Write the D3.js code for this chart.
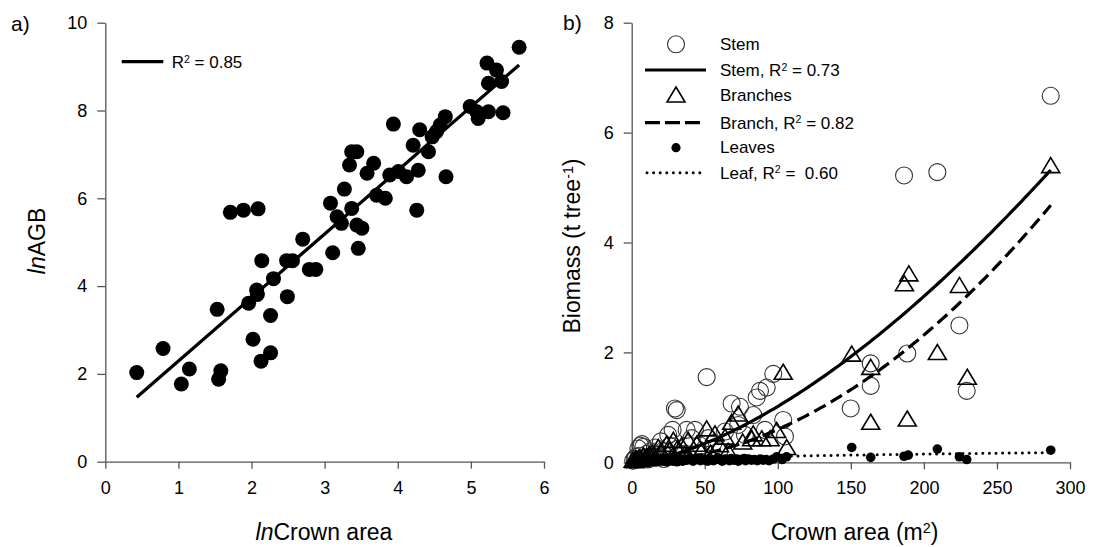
<!DOCTYPE html>
<html>
<head>
<meta charset="utf-8">
<script src="https://cdn.jsdelivr.net/npm/d3@7"></script>
<style>
  body { margin: 0; background: #fff; }
  text { font-family: Arial, "Liberation Sans", sans-serif; fill: #000; white-space: pre; }
</style>
</head>
<body>
<script>
// ---------- Panel a: lnAGB vs lnCrown area ----------
const lnCrown = [0.43,0.79,1.04,1.15,1.53,1.58,1.55,1.71,1.89,2.09,1.96,2.02,2.13,2.26,2.08,2.07,2.14,2.26,2.30,2.49,
  2.48,2.56,2.70,2.79,2.88,3.11,3.46,3.08,3.27,3.17,3.23,3.37,3.44,3.51,3.34,3.37,3.44,3.58,3.67,3.71,
  3.83,3.89,4.01,4.12,3.94,4.26,4.21,4.28,4.30,4.42,4.47,4.53,4.58,4.65,4.66,4.99,5.08,5.10,5.24,5.44,
  5.22,5.35,5.42,5.24,5.66];
const lnAGB = [2.03,2.58,1.77,2.11,3.47,2.07,1.88,5.68,5.73,5.76,3.61,2.79,2.29,2.48,3.81,3.91,4.58,3.33,4.17,3.76,
  4.58,4.58,5.07,4.38,4.38,4.76,4.86,5.89,6.21,5.58,5.43,5.77,5.39,5.32,6.76,7.06,7.06,6.57,6.80,6.07,
  6.00,6.53,6.61,6.49,7.69,5.73,7.21,6.64,7.56,7.06,7.40,7.52,7.67,7.86,6.49,8.09,7.97,7.82,7.97,7.95,
  9.08,8.92,8.66,8.62,9.44];
// linear fit lnAGB = intercept + slope * lnCrown
const fitIntercept = 0.843, fitSlope = 1.448, fitRange = [0.43, 5.66];
const ticksAx = [0,1,2,3,4,5,6];
const ticksAy = [0,2,4,6,8,10];

// ---------- Panel b: component biomass vs crown area ----------
const stemArea = [1,2,3,4,5,6,7,8,9,10,12,13,15,16,18,20,21,23,25,26,28,29.6,30.8,32,35,37.6,41,43.3,47,51.3,
  52.4,56,60,63.9,68.4,72.9,74.1,77.5,83.2,85.5,87.8,91.2,92.4,96.9,103.7,104.9,149.9,163.6,163.6,186.4,
  188.6,209.2,224.3,229.3,286.8,4.6,11,17,22];
const stemMass = [0.03,0.06,0.1,0.05,0.12,0.3,0.33,0.28,0.08,0.15,0.1,0.2,0.08,0.27,0.14,0.38,0.2,0.12,0.5,0.3,
  0.59,0.98,0.95,0.25,0.15,0.59,0.44,0.59,0.3,1.55,0.44,0.35,0.2,0.56,1.07,0.68,1.01,0.5,0.86,1.18,
  1.3,0.59,1.36,1.61,0.77,0.47,0.98,1.8,1.39,5.22,1.98,5.28,2.49,1.3,6.67,0.25,0.05,0.1,0.06];
const branchArea = [1,3,5,8,10,12,14,18.2,20,23.9,26,28.5,31,34.2,38.7,44.5,48,51.3,57,60,63.9,68.4,72.9,76,
  82.1,83.2,89,94.7,99.2,103.7,106.1,150.6,163.6,163.6,186.7,188.6,189.7,209.2,224.3,229.7,286.8,2,6,16,36,54,66];
const branchMass = [0.02,0.04,0.06,0.1,0.08,0.12,0.15,0.25,0.18,0.31,0.2,0.38,0.22,0.28,0.38,0.31,0.2,0.59,0.5,0.3,
  0.44,0.71,0.86,0.35,0.41,0.5,0.41,0.41,0.56,1.62,0.25,1.95,1.71,0.71,3.23,0.77,3.41,1.98,3.2,1.53,5.38,0.01,0.03,0.07,0.12,0.15,0.18];
const leafArea = [0,1,2,3,4,5,6,7,8,9,10,11,12,13,14,15,16,17,18,19,20,21,22,23,24,25,26,27,28,29,30,31,32,33,34,35,36,
  38,40,42,44,45,47,49,50,52,53,55,56,58,59,61,62,64,65,67,68,70,72,73,75,77,78,80,82,84,86,88,90,92,94,97,99.2,103,106,
  150.6,163.6,186.4,189.3,209.2,224.3,229.3,286.8];
const leafMass = [0.01,0.01,0.03,0.0,0.04,0.02,0.05,0.01,0.03,0.06,0.02,0.04,0.0,0.05,0.02,0.07,0.03,0.01,0.05,0.03,0.06,
  0.02,0.07,0.04,0.01,0.05,0.03,0.08,0.02,0.06,0.04,0.01,0.05,0.07,0.03,0.02,0.06,0.04,0.08,0.02,0.05,0.07,0.03,0.06,0.04,
  0.02,0.07,0.05,0.03,0.06,0.08,0.04,0.02,0.06,0.05,0.03,0.07,0.04,0.06,0.02,0.05,0.07,0.03,0.06,0.04,0.05,0.03,0.06,0.04,
  0.05,0.03,0.06,0.1,0.05,0.1,0.27,0.09,0.11,0.13,0.24,0.1,0.05,0.22];
// power fits: biomass = a * area^b
const stemFitA = 7.37e-4, stemFitB = 1.57;
const branchFitA = 7.545e-5, branchFitB = 1.95;
const leafFitA = 0.0131, leafFitB = 0.46;
const fitAreaMax = 286.8;
const ticksBx = [0,50,100,150,200,250,300];
const ticksBy = [0,2,4,6,8];

const svg = d3.select("body").append("svg")
  .attr("width", 1095).attr("height", 547);

const AXIS_COLOR = "#555";

function styleAxis(g) {
  g.selectAll("path.domain").attr("stroke", AXIS_COLOR).attr("stroke-width", 1.3);
  g.selectAll(".tick line").attr("stroke", AXIS_COLOR).attr("stroke-width", 1.3);
  g.selectAll(".tick text").attr("font-size", 18).attr("fill", "#000")
    .attr("font-family", "Arial, 'Liberation Sans', sans-serif");
}

// superscript helper
function addSup(t, base, sup, after) {
  t.append("tspan").text(base);
  t.append("tspan").attr("font-size", "0.62em").attr("dy", "-0.5em").text(sup);
  if (after !== undefined) t.append("tspan").attr("dy", "0.31em").text(after);
}

// ===== Panel a =====
const xA = d3.scaleLinear().domain([0, 6]).range([105.3, 544]);
const yA = d3.scaleLinear().domain([0, 10]).range([461.7, 22.7]);

const gA = svg.append("g");
gA.append("g").attr("transform", `translate(0,${yA(0)})`)
  .call(d3.axisBottom(xA).tickValues(ticksAx).tickSize(7).tickSizeOuter(0).tickPadding(13).tickFormat(d3.format("d")))
  .call(styleAxis);
gA.append("g").attr("transform", `translate(${xA(0)},0)`)
  .call(d3.axisLeft(yA).tickValues(ticksAy).tickSize(8).tickSizeOuter(0).tickPadding(10).tickFormat(d3.format("d")))
  .call(styleAxis);

gA.selectAll("circle.pt").data(d3.range(lnCrown.length)).join("circle")
  .attr("class", "pt")
  .attr("cx", i => xA(lnCrown[i])).attr("cy", i => yA(lnAGB[i]))
  .attr("r", 7.5).attr("fill", "#000");

gA.append("line")
  .attr("x1", xA(fitRange[0])).attr("y1", yA(fitIntercept + fitSlope * fitRange[0]))
  .attr("x2", xA(fitRange[1])).attr("y2", yA(fitIntercept + fitSlope * fitRange[1]))
  .attr("stroke", "#000").attr("stroke-width", 3.3);

// legend a
gA.append("line").attr("x1", 121.7).attr("x2", 163.3).attr("y1", 61.7).attr("y2", 61.7)
  .attr("stroke", "#000").attr("stroke-width", 3.3);
addSup(gA.append("text").attr("x", 171.7).attr("y", 68.3).attr("font-size", 17), "R", "2", " = 0.85");

// axis titles a
const tAx = gA.append("text").attr("x", 324).attr("y", 540).attr("text-anchor", "middle").attr("font-size", 23);
tAx.append("tspan").attr("font-style", "italic").text("ln");
tAx.append("tspan").text("Crown area");
const tAy = gA.append("text").attr("transform", "translate(45,241) rotate(-90)")
  .attr("text-anchor", "middle").attr("font-size", 23);
tAy.append("tspan").attr("font-style", "italic").text("ln");
tAy.append("tspan").text("AGB");
gA.append("text").attr("x", 11).attr("y", 30.5).attr("font-size", 21).text("a)");

// ===== Panel b =====
const xB = d3.scaleLinear().domain([0, 300]).range([631.7, 1070]);
const yB = d3.scaleLinear().domain([0, 8]).range([462.3, 22.7]);

const gB = svg.append("g");
gB.append("g").attr("transform", `translate(0,${yB(0)})`)
  .call(d3.axisBottom(xB).tickValues(ticksBx).tickSize(7).tickSizeOuter(0).tickPadding(12).tickFormat(d3.format("d")))
  .call(styleAxis);
gB.append("g").attr("transform", `translate(${xB(0)},0)`)
  .call(d3.axisLeft(yB).tickValues(ticksBy).tickSize(8).tickSizeOuter(0).tickPadding(10).tickFormat(d3.format("d")))
  .call(styleAxis);

// open triangle marker, centred on the point
function triPath(cx, cy) {
  const p = d3.path();
  p.moveTo(cx, cy - 9); p.lineTo(cx + 9, cy + 6); p.lineTo(cx - 9, cy + 6); p.closePath();
  return p.toString();
}

gB.selectAll("circle.stem").data(d3.range(stemArea.length)).join("circle")
  .attr("class", "stem")
  .attr("cx", i => xB(stemArea[i])).attr("cy", i => yB(stemMass[i]))
  .attr("r", 8.5).attr("fill", "none").attr("stroke", "#333").attr("stroke-width", 1.1);

gB.selectAll("path.branch").data(d3.range(branchArea.length)).join("path")
  .attr("class", "branch")
  .attr("d", i => triPath(xB(branchArea[i]), yB(branchMass[i])))
  .attr("fill", "none").attr("stroke", "#000").attr("stroke-width", 1.6);

gB.selectAll("circle.leaf").data(d3.range(leafArea.length)).join("circle")
  .attr("class", "leaf")
  .attr("cx", i => xB(leafArea[i])).attr("cy", i => yB(leafMass[i]))
  .attr("r", 4.8).attr("fill", "#000");

// fitted power curves
const curveX = d3.range(1, fitAreaMax, 2).concat([fitAreaMax]);
const lineB = (a, b) => d3.line().x(x => xB(x)).y(x => yB(a * Math.pow(x, b)))(curveX);

gB.append("path").attr("d", lineB(stemFitA, stemFitB))
  .attr("fill", "none").attr("stroke", "#000").attr("stroke-width", 3.2);
gB.append("path").attr("d", lineB(branchFitA, branchFitB))
  .attr("fill", "none").attr("stroke", "#000").attr("stroke-width", 3.2)
  .attr("stroke-dasharray", "13,6");
gB.append("path").attr("d", lineB(leafFitA, leafFitB))
  .attr("fill", "none").attr("stroke", "#000").attr("stroke-width", 3)
  .attr("stroke-linecap", "round").attr("stroke-dasharray", "0,6.6");

// legend b
const legX = 676, legTextX = 720;
gB.append("circle").attr("cx", legX).attr("cy", 44.3).attr("r", 8.5)
  .attr("fill", "none").attr("stroke", "#333").attr("stroke-width", 1.1);
gB.append("text").attr("x", legTextX).attr("y", 49.5).attr("font-size", 17).text("Stem");

gB.append("line").attr("x1", 645).attr("x2", 706).attr("y1", 70).attr("y2", 70)
  .attr("stroke", "#000").attr("stroke-width", 3.2);
addSup(gB.append("text").attr("x", legTextX).attr("y", 76).attr("font-size", 17), "Stem, R", "2", " = 0.73");

gB.append("path").attr("d", triPath(legX, 96)).attr("fill", "none").attr("stroke", "#000").attr("stroke-width", 1.6);
gB.append("text").attr("x", legTextX).attr("y", 101).attr("font-size", 17).text("Branches");

gB.append("line").attr("x1", 645).attr("x2", 700).attr("y1", 122.7).attr("y2", 122.7)
  .attr("stroke", "#000").attr("stroke-width", 3.2).attr("stroke-dasharray", "15,5");
addSup(gB.append("text").attr("x", legTextX).attr("y", 128.5).attr("font-size", 17), "Branch, R", "2", " = 0.82");

gB.append("circle").attr("cx", legX).attr("cy", 147.7).attr("r", 4.6).attr("fill", "#000");
gB.append("text").attr("x", legTextX).attr("y", 153).attr("font-size", 17).text("Leaves");

gB.append("line").attr("x1", 647).attr("x2", 706).attr("y1", 172.7).attr("y2", 172.7)
  .attr("stroke", "#000").attr("stroke-width", 3).attr("stroke-linecap", "round").attr("stroke-dasharray", "0,6.6");
addSup(gB.append("text").attr("x", legTextX).attr("y", 178.5).attr("font-size", 17), "Leaf, R", "2", " =  0.60");

// axis titles b
const tBx = gB.append("text").attr("x", 854.5).attr("y", 540).attr("text-anchor", "middle").attr("font-size", 23);
addSup(tBx, "Crown area (m", "2", ")");
const tBy = gB.append("text").attr("transform", "translate(580,246) rotate(-90)")
  .attr("text-anchor", "middle").attr("font-size", 23);
addSup(tBy, "Biomass (t tree", "-1", ")");
gB.append("text").attr("x", 563).attr("y", 29.5).attr("font-size", 21).text("b)");
</script>
</body>
</html>
